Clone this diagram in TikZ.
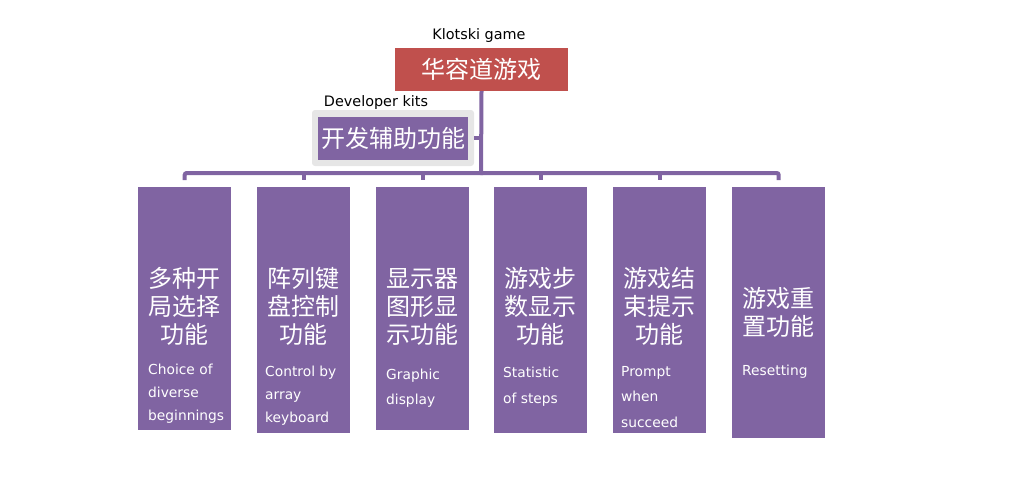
\documentclass[tikz,border=0pt]{standalone}
\usepackage{fontspec}
\newfontfamily\cjk{Noto Sans CJK SC}
\newfontfamily\lat{DejaVu Sans}
\definecolor{purp}{HTML}{8064A2}
\definecolor{redb}{HTML}{C0504D}
\definecolor{frameg}{HTML}{E6E6E6}
\begin{document}
\begin{tikzpicture}[x=1pt,y=-1pt,
  box/.style={fill=purp, draw=none, inner sep=0pt, anchor=north west, minimum width=93pt},
  conn/.style={draw=purp, line width=4pt},
  zh/.style={font=\cjk\fontsize{24}{28}\selectfont, text=white, align=center, inner sep=0pt},
  en/.style={font=\lat\fontsize{13.8}{23}\selectfont, text=white, align=left, anchor=base west, inner sep=0pt},
  lbl/.style={font=\lat\fontsize{14.4}{16}\selectfont, text=black, inner sep=0pt}]
\useasboundingbox (0,0) rectangle (1017,485);
% root
\node[fill=redb, minimum width=173pt, minimum height=43pt, inner sep=0pt,
      font=\cjk\fontsize{24}{28}\selectfont, text=white] (root) at (481.5,69.5) {华容道游戏};
\node[lbl] (klabel) at (479,36) {Klotski game};
% developer kits
\node[fill=frameg, rounded corners=3pt, minimum width=162pt, minimum height=56pt, inner sep=0pt] (devframe) at (393,138) {};
\node[fill=purp, minimum width=150pt, minimum height=43pt, inner sep=0pt,
      font=\cjk\fontsize{24}{28}\selectfont, text=white] (dev) at (393,138.5) {开发辅助功能};
\node[lbl] (dlabel) at (376,103) {Developer kits};
% children
\node[box, minimum height=243pt] (c1) at (138,187) {};
\node[box, minimum height=246pt] (c2) at (257,187) {};
\node[box, minimum height=243pt] (c3) at (376,187) {};
\node[box, minimum height=246pt] (c4) at (494,187) {};
\node[box, minimum height=246pt] (c5) at (613,187) {};
\node[box, minimum height=251pt] (c6) at (732,187) {};
% connectors
\coordinate (bus) at (481,173);
\draw[conn] (root.south) -- ([yshift=-2pt]bus);
\draw[conn] (devframe.east) -- (devframe.east -| bus);
\draw[conn, rounded corners=2pt] ([yshift=7pt]c1.north) -- (c1.north |- bus) -- (c6.north |- bus) -- ([yshift=7pt]c6.north);
\foreach \i in {2,3,4,5} {\draw[conn] (c\i.north |- bus) -- ([yshift=7pt]c\i.north);}
% chinese texts
\node[zh] (z1) at (184.5,306.5) {多种开\\局选择\\功能};
\node[zh] (z2) at (303.5,306.5) {阵列键\\盘控制\\功能};
\node[zh] (z3) at (422,306.5) {显示器\\图形显\\示功能};
\node[zh] (z4) at (540.5,306.5) {游戏步\\数显示\\功能};
\node[zh] (z5) at (659.5,306.5) {游戏结\\束提示\\功能};
\node[zh] (z6) at (778,312) {游戏重\\置功能};
% english texts (anchor at baseline of last line)
\node[en] (e1) at (148,420) {Choice of\\diverse\\beginnings};
\node[en] (e2) at (265,422) {Control by\\array\\keyboard};
\node[en, font=\lat\fontsize{13.8}{25}\selectfont] (e3) at (386,404) {Graphic\\display};
\node[en, font=\lat\fontsize{13.8}{26}\selectfont] (e4) at (503,403) {Statistic\\of steps};
\node[en, font=\lat\fontsize{13.8}{25.5}\selectfont] (e5) at (621,427) {Prompt\\when\\succeed};
\node[en] (e6) at (742,375) {Resetting};
\end{tikzpicture}
\end{document}
